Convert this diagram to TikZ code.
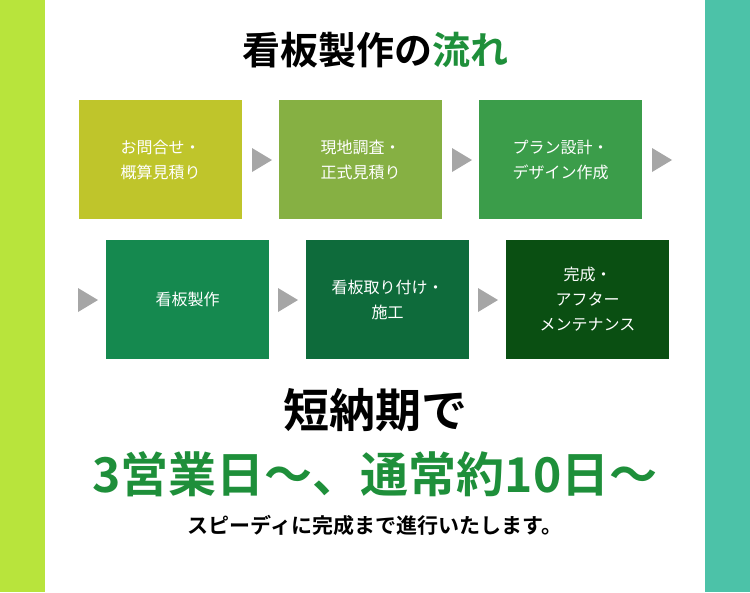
\documentclass[tikz,border=0pt]{standalone}
\usepackage{fontspec}
\newfontfamily\cjk{Noto Sans CJK JP}[BoldFont={Noto Sans CJK JP Bold}]
\begin{document}
\begin{tikzpicture}[x=1pt,y=-1pt,
  box/.style={minimum width=163pt,minimum height=119pt,inner sep=0pt,align=center,text=white,font=\cjk\fontsize{16}{25}\selectfont},
  arr/.style={fill=gray!70,draw=none}]
\definecolor{lime}{HTML}{B8E43C}\definecolor{teal}{HTML}{4CC2A8}
\definecolor{gtxt}{HTML}{1E8F3A}
\fill[white] (0,0) rectangle (750,592);
\fill[lime] (0,0) rectangle (45,592);
\fill[teal] (705,0) rectangle (750,592);
\node[font=\cjk\bfseries\fontsize{38}{40}\selectfont] (title) at (375,50) {看板製作の\textcolor{gtxt}{流れ}};
\definecolor{c1}{HTML}{BFC52B}\definecolor{c2}{HTML}{86B043}\definecolor{c3}{HTML}{3B9D4A}
\definecolor{c4}{HTML}{15894F}\definecolor{c5}{HTML}{0E6B3B}\definecolor{c6}{HTML}{0A4F12}
\node[box,fill=c1] (b1) at (160.5,159.5) {お問合せ・\\概算見積り};
\node[box,fill=c2] (b2) at (360.5,159.5) {現地調査・\\正式見積り};
\node[box,fill=c3] (b3) at (560.5,159.5) {プラン設計・\\デザイン作成};
\node[box,fill=c4] (b4) at (187.5,299.5) {看板製作};
\node[box,fill=c5] (b5) at (387.5,299.5) {看板取り付け・\\施工};
\node[box,fill=c6] (b6) at (587.5,299.5) {完成・\\アフター\\メンテナンス};
\foreach \x/\y in {252/160,452/160,652/160,78/300,278/300,478/300}
  \fill[arr] (\x,\y-12) -- (\x+20,\y) -- (\x,\y+12) -- cycle;
\node[font=\cjk\bfseries\fontsize{46}{48}\selectfont] (t1) at (375,410) {短納期で};
\node[font=\cjk\bfseries\fontsize{48}{50}\selectfont,text=gtxt] (t2) at (375,474) {3営業日〜、通常約10日〜};
\node[font=\cjk\bfseries\fontsize{21}{24}\selectfont] (t3) at (375,525) {スピーディに完成まで進行いたします。};
\end{tikzpicture}
\end{document}
